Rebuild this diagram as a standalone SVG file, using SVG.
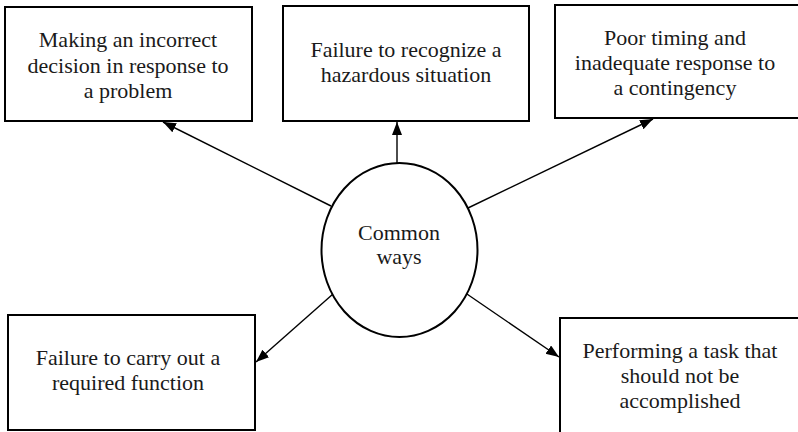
<svg xmlns="http://www.w3.org/2000/svg" width="798" height="432" viewBox="0 0 798 432">
<defs>
<marker id="ah" markerUnits="userSpaceOnUse" markerWidth="14" markerHeight="12" refX="13" refY="5" orient="auto">
<path d="M0,0 L13,5 L0,10 z" fill="#000"/>
</marker>
</defs>
<rect width="798" height="432" fill="#fff"/>
<g id="connectors" stroke="#000" stroke-width="1.4" fill="none">
<line x1="331" y1="206" x2="163" y2="122" marker-end="url(#ah)"/>
<line x1="397" y1="163" x2="397" y2="122" marker-end="url(#ah)"/>
<line x1="468" y1="208" x2="653" y2="119" marker-end="url(#ah)"/>
<line x1="333" y1="294" x2="256" y2="362" marker-end="url(#ah)"/>
<line x1="464" y1="292" x2="559" y2="357" marker-end="url(#ah)"/>
</g>
<g id="center">
<ellipse cx="399.5" cy="250" rx="78" ry="87" fill="#fff" stroke="#000" stroke-width="2"/>
<text x="399" y="240" font-family="Liberation Serif" font-size="22" text-anchor="middle" fill="#1a1a1a">Common</text>
<text x="399" y="264" font-family="Liberation Serif" font-size="22" text-anchor="middle" fill="#1a1a1a">ways</text>
</g>
<g id="n1">
<rect x="5" y="7" width="247" height="114" fill="#fff" stroke="#000" stroke-width="2"/>
<text x="128" y="47" font-family="Liberation Serif" font-size="22" text-anchor="middle" fill="#1a1a1a">Making an incorrect</text>
<text x="128" y="72.5" font-family="Liberation Serif" font-size="22" text-anchor="middle" fill="#1a1a1a">decision in response to</text>
<text x="128" y="97.5" font-family="Liberation Serif" font-size="22" text-anchor="middle" fill="#1a1a1a">a problem</text>
</g>
<g id="n2">
<rect x="283" y="6" width="246" height="115" fill="#fff" stroke="#000" stroke-width="2"/>
<text x="406" y="57" font-family="Liberation Serif" font-size="22" text-anchor="middle" fill="#1a1a1a">Failure to recognize a</text>
<text x="406" y="82" font-family="Liberation Serif" font-size="22" text-anchor="middle" fill="#1a1a1a">hazardous situation</text>
</g>
<g id="n3">
<rect x="555" y="5" width="250" height="113" fill="#fff" stroke="#000" stroke-width="2"/>
<text x="675" y="45" font-family="Liberation Serif" font-size="22" text-anchor="middle" fill="#1a1a1a">Poor timing and</text>
<text x="675" y="70" font-family="Liberation Serif" font-size="22" text-anchor="middle" fill="#1a1a1a">inadequate response to</text>
<text x="675" y="95" font-family="Liberation Serif" font-size="22" text-anchor="middle" fill="#1a1a1a">a contingency</text>
</g>
<g id="n4">
<rect x="8" y="315" width="247" height="115" fill="#fff" stroke="#000" stroke-width="2"/>
<text x="128" y="365" font-family="Liberation Serif" font-size="22" text-anchor="middle" fill="#1a1a1a">Failure to carry out a</text>
<text x="128" y="390" font-family="Liberation Serif" font-size="22" text-anchor="middle" fill="#1a1a1a">required function</text>
</g>
<g id="n5">
<rect x="560" y="318" width="245" height="125" fill="#fff" stroke="#000" stroke-width="2"/>
<text x="680" y="358" font-family="Liberation Serif" font-size="22" text-anchor="middle" fill="#1a1a1a">Performing a task that</text>
<text x="680" y="383" font-family="Liberation Serif" font-size="22" text-anchor="middle" fill="#1a1a1a">should not be</text>
<text x="680" y="408" font-family="Liberation Serif" font-size="22" text-anchor="middle" fill="#1a1a1a">accomplished</text>
</g>
</svg>
